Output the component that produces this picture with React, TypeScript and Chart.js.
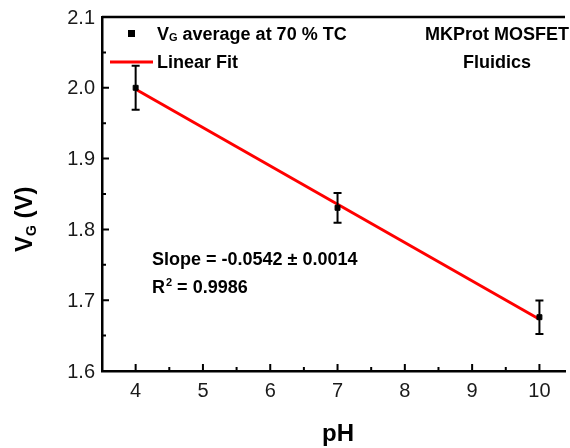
import React, { useEffect, useRef } from "react";
import { Chart, registerables } from "chart.js";

Chart.register(...registerables);

const phValues = [4, 7, 10];
const vgAverage = [2.0, 1.8305, 1.676];
const vgError = [0.031, 0.021, 0.0236];
const fitPh = [4, 10];
const fitVg = [1.998, 1.673];
const xTicks = [4, 5, 6, 7, 8, 9, 10];
const yTicks = [1.6, 1.7, 1.8, 1.9, 2.0, 2.1];
const xMinorTicks = [4.5, 5.5, 6.5, 7.5, 8.5, 9.5];
const yMinorTicks = [1.65, 1.75, 1.85, 1.95, 2.05];
const xMin = 3.5;
const xMaxVisible = 10.38;
const yMin = 1.6;
const yMax = 2.1;

const FONT = "'Liberation Sans', Arial, sans-serif";

const overlay = {
  id: "overlay",
  afterDatasetsDraw(chart: any) {
    const ctx = chart.ctx as CanvasRenderingContext2D;
    const xs = chart.scales.x;
    const ys = chart.scales.y;
    const area = chart.chartArea;
    ctx.save();
    // error bars
    ctx.strokeStyle = "#000";
    ctx.lineWidth = 2;
    phValues.forEach((p, i) => {
      const px = xs.getPixelForValue(p);
      const top = ys.getPixelForValue(vgAverage[i] + vgError[i]);
      const bot = ys.getPixelForValue(vgAverage[i] - vgError[i]);
      ctx.beginPath();
      ctx.moveTo(px, top);
      ctx.lineTo(px, bot);
      ctx.moveTo(px - 4, top);
      ctx.lineTo(px + 4, top);
      ctx.moveTo(px - 4, bot);
      ctx.lineTo(px + 4, bot);
      ctx.stroke();
    });
    // top frame
    ctx.lineWidth = 2.5;
    ctx.beginPath();
    ctx.moveTo(area.left, area.top);
    ctx.lineTo(area.right, area.top);
    ctx.stroke();
    // inward ticks
    ctx.lineWidth = 2;
    ctx.beginPath();
    xTicks.forEach((v) => {
      const px = xs.getPixelForValue(v);
      ctx.moveTo(px, area.bottom);
      ctx.lineTo(px, area.bottom - 7);
    });
    xMinorTicks.forEach((v) => {
      const px = xs.getPixelForValue(v);
      ctx.moveTo(px, area.bottom);
      ctx.lineTo(px, area.bottom - 4);
    });
    yTicks.forEach((v) => {
      const py = ys.getPixelForValue(v);
      ctx.moveTo(area.left, py);
      ctx.lineTo(area.left + 7, py);
    });
    yMinorTicks.forEach((v) => {
      const py = ys.getPixelForValue(v);
      ctx.moveTo(area.left, py);
      ctx.lineTo(area.left + 4, py);
    });
    ctx.stroke();

    // tick labels
    ctx.fillStyle = "#1a1a1a";
    ctx.font = `20px ${FONT}`;
    ctx.textBaseline = "middle";
    ctx.textAlign = "center";
    xTicks.forEach((v) => {
      ctx.fillText(String(v), xs.getPixelForValue(v), area.bottom + 20);
    });
    ctx.textAlign = "right";
    yTicks.forEach((v) => {
      ctx.fillText(v.toFixed(1), area.left - 7, ys.getPixelForValue(v) + 1);
    });

    ctx.fillStyle = "#000";
    ctx.textBaseline = "alphabetic";
    // legend
    ctx.fillRect(120, 22, 7, 7);
    ctx.textAlign = "left";
    ctx.font = `bold 18px ${FONT}`;
    ctx.fillText("V", 149, 32);
    let w = ctx.measureText("V").width;
    ctx.font = `bold 11px ${FONT}`;
    ctx.fillText("G", 149 + w, 33);
    const wg = ctx.measureText("G").width;
    ctx.font = `bold 18px ${FONT}`;
    ctx.fillText(" average at 70 % TC", 149 + w + wg, 32);
    ctx.strokeStyle = "#ff0000";
    ctx.lineWidth = 3;
    ctx.beginPath();
    ctx.moveTo(102, 54);
    ctx.lineTo(145, 54);
    ctx.stroke();
    ctx.fillText("Linear Fit", 149, 60);

    // annotation
    ctx.textAlign = "center";
    ctx.font = `bold 18px ${FONT}`;
    ctx.fillText("MKProt MOSFET", 489, 32);
    ctx.fillText("Fluidics", 489, 60);

    ctx.textAlign = "left";
    ctx.font = `bold 18px ${FONT}`;
    ctx.fillText("Slope = -0.0542 \u00b1 0.0014", 144, 257);
    ctx.fillText("R", 144, 285);
    const wr = ctx.measureText("R").width;
    ctx.font = `bold 11px ${FONT}`;
    ctx.fillText("2", 144 + wr + 1, 278);
    const w2 = ctx.measureText("2").width;
    ctx.font = `bold 18px ${FONT}`;
    ctx.fillText(" = 0.9986", 144 + wr + 1 + w2, 285);

    // x title
    ctx.textAlign = "center";
    ctx.font = `bold 24px ${FONT}`;
    ctx.fillText("pH", 330, 433);

    // y title
    ctx.translate(24, 244);
    ctx.rotate(-Math.PI / 2);
    ctx.textAlign = "left";
    ctx.font = `bold 24px ${FONT}`;
    ctx.fillText("V", 0, 0);
    w = ctx.measureText("V").width;
    ctx.font = `bold 14px ${FONT}`;
    ctx.fillText("G", w, 4);
    const wg2 = ctx.measureText("G").width;
    ctx.font = `bold 24px ${FONT}`;
    ctx.fillText(" (V)", w + wg2, 0);
    ctx.restore();
  },
};

export default function App() {
  const ref = useRef<HTMLCanvasElement>(null);
  useEffect(() => {
    document.body.style.margin = "0";
    document.body.style.overflow = "hidden";
    if (!ref.current) return;
    const chart = new Chart(ref.current, {
      type: "scatter",
      data: {
        datasets: [
          {
            label: "avg",
            data: phValues.map((p, i) => ({ x: p, y: vgAverage[i] })),
            backgroundColor: "#000",
            borderColor: "#000",
            pointStyle: "rect",
            pointRadius: 3.5,
            order: 0,
          },
          {
            label: "fit",
            type: "line",
            data: fitPh.map((p, i) => ({ x: p, y: fitVg[i] })),
            borderColor: "#ff0000",
            borderWidth: 3,
            pointRadius: 0,
            showLine: true,
            fill: false,
            order: 1,
          } as any,
        ],
      },
      options: {
        animation: false,
        responsive: false,
        layout: { padding: { top: 9, right: 0, left: 0, bottom: 0 } },
        plugins: { legend: { display: false }, tooltip: { enabled: false } },
        scales: {
          x: {
            type: "linear",
            min: xMin,
            max: xMaxVisible,
            grid: { display: false },
            border: { display: true, color: "#000", width: 2.5 },
            afterBuildTicks: (s: any) => {
              s.ticks = xTicks.map((v) => ({ value: v }));
            },
            afterFit: (s: any) => {
              s.height = 77;
            },
            ticks: { display: false },
          },
          y: {
            type: "linear",
            min: yMin,
            max: yMax,
            grid: { display: false },
            border: { display: true, color: "#000", width: 2.5 },
            afterBuildTicks: (s: any) => {
              s.ticks = yTicks.map((v) => ({ value: v }));
            },
            afterFit: (s: any) => {
              s.width = 94;
            },
            ticks: { display: false },
          },
        },
      },
      plugins: [overlay],
    });
    return () => chart.destroy();
  }, []);
  return (
    <div style={{ width: 570, height: 448, overflow: "hidden", position: "relative" }}>
      <canvas
        ref={ref}
        width={562}
        height={440}
        style={{ display: "block", position: "absolute", left: 8, top: 8 }}
      />
    </div>
  );
}
